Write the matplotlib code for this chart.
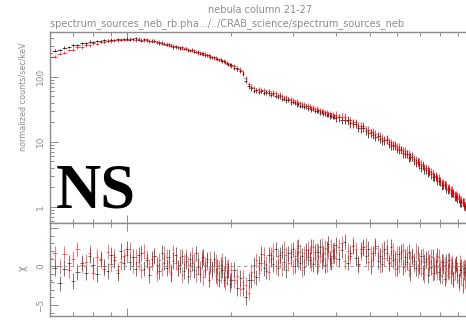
import matplotlib
matplotlib.use('Agg')
import matplotlib.pyplot as plt
import numpy as np
from matplotlib.ticker import FixedLocator, NullFormatter, LogLocator, MultipleLocator


# energy bins (keV), four blocks with different bin widths
energy = [
    6.0, 6.2, 6.4, 6.6, 6.8, 7.0, 7.2, 7.4, 7.6, 7.8,
    8.0, 8.2, 8.4, 8.6, 8.8, 9.0, 9.2, 9.4, 9.6, 9.8,
    10.0, 10.2, 10.4, 10.6, 10.8, 11.0, 11.2, 11.4, 11.6, 11.8,
    12.0, 12.2, 12.4, 12.6, 12.8, 13.0, 13.2, 13.4, 13.6, 13.8,
    14.0, 14.2, 14.4, 14.6, 14.8, 15.0, 15.2, 15.4, 15.6, 15.8,
    16.0, 16.2, 16.4, 16.6, 16.8, 17.0, 17.2, 17.4, 17.6, 17.8,
    18.0, 18.2, 18.4, 18.6, 18.8, 19.0, 19.2, 19.4, 19.6, 19.8,
    20.0, 20.4, 20.8, 21.2, 21.6, 22.0, 22.4, 22.8, 23.2, 23.6,
    24.0, 24.4, 24.8, 25.2, 25.6, 26.0, 26.4, 26.8, 27.2, 27.6,
    28.0, 28.4, 28.8, 29.2, 29.6, 30.0, 30.4, 30.8, 31.2, 31.6,
    32.0, 32.4, 32.8, 33.2, 33.6, 34.0, 34.4, 34.8, 35.2, 35.6,
    36.0, 36.4, 36.8, 37.2, 37.6, 38.0, 38.4, 38.8, 39.2, 39.6,
    40.0, 40.8, 41.6, 42.4, 43.2, 44.0, 44.8, 45.6, 46.4, 47.2,
    48.0, 48.8, 49.6, 50.4, 51.2, 52.0, 52.8, 53.6, 54.4, 55.2,
    56.0, 56.8, 57.6, 58.4, 59.2, 60.0, 60.8, 61.6, 62.4, 63.2,
    64.0, 64.8, 65.6, 66.4, 67.2, 68.0, 68.8, 69.6, 70.4, 71.2,
    72.0, 72.8, 73.6, 74.4, 75.2, 76.0, 76.8, 77.6, 78.4, 79.2,
    80.0, 80.8, 81.6, 82.4, 83.2, 84.0, 84.8, 85.6, 86.4, 87.2,
    88.0, 88.8, 89.6, 90.4, 91.2, 92.0, 92.8, 93.6, 94.4, 95.2,
]
block_size = [20, 50, 50, 70]
block_halfwidth = [0.1, 0.1, 0.2, 0.4]
block_relerr = [0.05, 0.05, 0.08, 0.14]

# normalized counts/sec/keV
rate_black = [
    228, 250, 258, 281, 287, 307, 309, 328, 326, 347,
    339, 356, 350, 366, 358, 372, 364, 378, 369, 381,
    384, 371, 380, 388, 371, 360, 375, 364, 352, 359,
    358, 338, 327, 335, 323, 309, 317, 299, 286, 296,
    286, 273, 282, 268, 269, 254, 258, 260, 243, 240,
    242, 226, 230, 229, 215, 214, 216, 200, 200, 201,
    188, 190, 181, 185, 172, 172, 170, 159, 153, 156,
    151, 136, 131, 122, 110, 87, 71, 66.0, 60.5, 61.8,
    58.4, 60.9, 56.1, 57.4, 55.8, 52.4, 54.6, 50.3, 49.1, 50.2,
    45.9, 46.1, 43.2, 44.5, 40.6, 40.9, 39.9, 37.4, 38.3, 35.6,
    36.0, 34.1, 35.2, 32.5, 32.9, 31.0, 32.0, 29.8, 30.0, 29.6,
    28.1, 28.7, 26.9, 27.3, 26.0, 26.4, 24.7, 25.3, 23.9, 24.2,
    23.0, 23.6, 21.4, 21.8, 21.7, 19.1, 18.8, 18.7, 16.4, 16.1,
    16.5, 14.5, 13.4, 13.9, 12.9, 11.9, 12.3, 11.1, 10.3, 10.5,
    10.6, 9.27, 8.60, 8.75, 8.62, 7.66, 7.55, 7.66, 6.61, 6.52,
    6.49, 5.70, 5.80, 5.80, 5.09, 4.74, 4.85, 4.47, 3.99, 4.24,
    3.75, 3.69, 3.34, 3.53, 3.14, 2.87, 2.94, 2.89, 2.51, 2.47,
    2.45, 2.13, 2.16, 2.18, 1.90, 1.83, 1.87, 1.62, 1.65, 1.63,
    1.42, 1.42, 1.33, 1.34, 1.17, 1.17, 1.18, 1.02, 1.01, 0.94,
]
rate_red = [
    198, 204, 227, 233, 258, 261, 283, 284, 306, 307,
    325, 322, 342, 338, 357, 352, 369, 362, 377, 371,
    371, 386, 375, 366, 384, 372, 362, 375, 357, 344,
    354, 343, 347, 323, 320, 323, 300, 305, 302, 282,
    285, 288, 270, 269, 273, 265, 250, 250, 254, 242,
    231, 237, 226, 218, 226, 217, 206, 210, 202, 192,
    198, 187, 187, 176, 181, 177, 164, 164, 162, 150,
    146, 147, 136, 129, 117, 95, 78, 70.4, 66.8, 63.1,
    64.9, 61.4, 62.6, 59.0, 60.3, 56.4, 57.0, 55.8, 52.4, 53.1,
    50.0, 47.6, 48.5, 45.3, 45.0, 43.9, 41.2, 42.0, 39.4, 39.8,
    37.3, 38.1, 35.6, 36.0, 34.9, 33.4, 34.0, 32.0, 32.5, 30.7,
    31.1, 29.4, 30.0, 28.2, 28.6, 27.0, 27.6, 26.0, 26.4, 25.1,
    25.7, 23.8, 23.9, 24.0, 21.1, 21.3, 19.8, 19.8, 17.6, 17.5,
    17.4, 15.5, 15.3, 13.6, 14.1, 13.1, 12.1, 12.4, 11.5, 10.6,
    11.0, 9.96, 9.82, 8.84, 9.04, 8.39, 8.40, 7.44, 7.39, 7.27,
    6.55, 6.51, 5.86, 6.14, 5.47, 5.30, 4.85, 4.93, 4.51, 4.41,
    3.95, 3.96, 3.88, 3.46, 3.40, 3.34, 2.94, 2.97, 2.75, 2.78,
    2.52, 2.34, 2.36, 2.20, 2.20, 1.95, 1.94, 1.80, 1.80, 1.65,
    1.53, 1.55, 1.46, 1.44, 1.28, 1.27, 1.19, 1.18, 1.05, 1.05,
]

# residuals (chi)
chi_black = [
    -1.7, -0.2, -2.2, -0.3, 0.5, -1.9, -0.7, 0.5, -0.8, 1.4,
    0.2, -1.0, 1.0, 0.0, -0.6, 1.5, 0.8, -0.9, 2.0, 0.5,
    2.3, 0.6, 1.2, -0.3, 1.5, 1.7, -0.3, 0.8, -1.1, 1.0,
    1.3, 0.2, -0.6, 1.8, 0.5, -0.2, 1.2, -1.0, 0.7, 1.5,
    -0.2, 0.2, 1.3, -0.6, 0.7, -1.2, 0.9, 0.4, -0.5, 1.7,
    -0.1, -1.0, 0.7, 1.2, -0.4, 0.9, -1.7, 0.1, -0.3, 1.0,
    -1.2, 0.0, -1.7, 0.2, -0.5, -1.7, 0.3, -1.4, -0.5, -2.3,
    -1.8, -0.4, -2.8, -1.5, -2.8, -4.0, -1.8, -1.8, 0.2, -1.4,
    0.4, 1.6, -0.2, -0.6, 1.5, 0.9, 0.3, 2.2, -0.2, 1.5,
    1.9, 0.6, -0.5, 1.7, 1.2, 2.2, 0.1, 1.0, 2.6, 0.5,
    1.4, -0.1, 2.1, 1.2, 0.8, 2.6, 0.3, 1.9, 0.0, 1.9,
    2.5, 0.7, 1.7, 0.2, 2.3, 2.9, 1.0, 0.5, 2.0, 1.4,
    2.8, 0.9, 2.1, 3.2, 0.5, 1.8, 2.6, 1.1, 0.3, 2.2,
    2.5, 1.3, 2.3, 0.0, 1.7, 2.7, 0.7, 1.4, 0.3, 2.3,
    1.7, 0.4, 2.5, 0.8, 1.0, -0.2, 1.6, 1.9, -0.1, 1.2,
    0.6, 1.9, -0.9, 1.2, 0.7, -0.2, 1.7, 0.0, 1.3, -0.8,
    0.6, 1.0, -1.1, 0.6, -0.1, 1.2, -0.8, 0.0, 1.4, -0.7,
    -1.1, 0.6, 0.0, -1.6, 0.6, -0.6, 0.8, -1.3, -0.1, -1.7,
    0.1, 0.4, -1.1, -1.8, -0.4, 0.0, -2.4, -0.7, -0.2, -1.3,
]
chi_red = [
    1.1, 1.7, 0.0, 1.6, -0.5, 1.0, 2.2, 0.2, 0.6, 1.8,
    -0.8, 1.2, 0.8, -0.3, 1.9, 0.3, 1.2, -0.5, 0.6, 1.3,
    1.5, 2.2, 0.1, 1.2, 0.6, -0.5, 1.9, 1.1, -0.1, 0.5,
    1.4, -0.9, 0.8, -0.3, 1.6, 1.2, 0.1, -0.7, 1.8, 0.5,
    -0.3, 1.2, -1.1, 0.6, 1.3, 0.2, -0.6, 1.5, 0.7, -1.0,
    0.9, -0.3, 1.1, -1.4, 0.2, 0.6, -1.0, 1.0, -0.6, 0.1,
    0.6, -1.6, -0.2, -1.2, 0.7, -0.9, -2.1, -0.2, 0.0, -1.8,
    -0.4, -1.8, -1.2, -2.9, -1.4, -2.4, -3.4, -0.7, -1.3, 0.8,
    -0.9, 0.4, 1.5, 0.3, -0.7, 1.5, 2.0, 0.0, 1.3, 0.8,
    -0.3, 2.3, 1.5, 0.4, 1.9, 0.0, 1.3, 2.4, 0.7, 1.9,
    -0.4, 1.7, 1.0, 2.3, 1.7, 0.4, 2.5, 1.0, 2.1, 0.3,
    1.4, 2.7, 0.9, 2.4, 0.3, 1.9, 0.7, 2.6, 1.3, 2.2,
    1.1, 2.5, 3.0, 0.7, 2.0, 1.3, 2.8, 2.2, 0.2, 1.8,
    2.3, 2.7, 0.6, 1.7, 1.0, 2.4, 1.8, 0.1, 2.0, 1.1,
    2.6, 0.6, 1.1, 2.0, -0.3, 1.6, 0.1, 1.1, 2.1, 0.3,
    1.7, -0.4, 1.0, 1.4, 0.3, 2.0, -0.5, 0.7, -0.2, 1.4,
    -1.1, 0.7, 1.1, -0.2, 1.3, -0.9, 0.2, 0.7, -0.7, 1.2,
    0.0, -1.3, 0.6, 0.2, -1.1, 0.8, -0.8, 0.2, 0.5, -1.6,
    -0.8, 0.3, -0.4, -2.2, 0.5, -1.4, -0.3, 0.0, -1.9, -0.6,
]

title = 'nebula column 21-27'
subtitle = 'spectrum_sources_neb_rb.pha ../../CRAB_science/spectrum_sources_neb'
grey = '#8c8c8c'

W, H = 466, 321
e = np.array(energy)
xerr = np.repeat(block_halfwidth, block_size)
relerr = np.repeat(block_relerr, block_size)

fig = plt.figure(figsize=(W / 100, H / 100), dpi=100)
left, right = 50 / W, 474 / W
ax1 = fig.add_axes([left, 1 - 222.5 / H, right - left, (222.5 - 32) / H])
ax2 = fig.add_axes([left, 1 - 316 / H, right - left, (316 - 222.5) / H])

for rate, col in ((rate_black, 'black'), (rate_red, 'red')):
    r = np.array(rate)
    ax1.errorbar(e, r, xerr=xerr, yerr=r * relerr, fmt='none',
                 ecolor=col, elinewidth=0.7, alpha=0.7)
for chi, col in ((chi_black, 'black'), (chi_red, 'red')):
    ax2.errorbar(e, chi, xerr=xerr, yerr=np.ones(len(chi)), fmt='none',
                 ecolor=col, elinewidth=0.7, alpha=0.55)
ax2.axhline(0, color=grey, lw=0.6, ls=(0, (4, 4)))

for ax in (ax1, ax2):
    ax.set_xscale('log')
    ax.set_xlim(6, 100)
    ax.xaxis.set_major_locator(FixedLocator([10, 100]))
    ax.xaxis.set_minor_locator(FixedLocator(
        [6, 7, 8, 9, 20, 30, 40, 50, 60, 70, 80, 90]))
    ax.xaxis.set_major_formatter(NullFormatter())
    ax.xaxis.set_minor_formatter(NullFormatter())
    for s in ax.spines.values():
        s.set_color(grey)
        s.set_linewidth(1.0)
    ax.tick_params(which='both', direction='in', top=True, right=True,
                   color=grey, labelcolor=grey, labelsize=6.5, width=0.7)
    ax.tick_params(which='major', length=6)
    ax.tick_params(which='minor', length=3)
    ax.tick_params(axis='y', labelrotation=90)

ax1.set_yscale('log')
ax1.set_ylim(0.571, 488)
ax1.yaxis.set_major_locator(FixedLocator([1, 10, 100]))
ax1.yaxis.set_minor_locator(LogLocator(subs=np.arange(2, 10)))
ax1.set_yticklabels(['1', '10', '100'], va='center')

ax2.set_ylim(-6.43, 5.7)
ax2.yaxis.set_major_locator(FixedLocator([-5, 0, 5]))
ax2.yaxis.set_minor_locator(MultipleLocator(1))
ax2.set_yticklabels(['\u22125', '0', ''], va='center')

fig.text(260 / W, 1 - 10 / H, title, ha='center', va='center',
         color=grey, fontsize=7)
fig.text(50 / W, 1 - 24 / H, subtitle, ha='left', va='center',
         color=grey, fontsize=7)
fig.text(23 / W, 1 - 97 / H, 'normalized counts/sec/keV', rotation=90,
         ha='center', va='center', color=grey, fontsize=5.8)
fig.text(23 / W, 1 - 268 / H, '\u03c7', rotation=90,
         ha='center', va='center', color=grey, fontsize=7)
fig.text(56 / W, 1 - 207 / H, 'NS', family='Liberation Serif',
         weight='bold', fontsize=45, color='black', va='baseline')

fig.savefig('out.png', dpi=100)
